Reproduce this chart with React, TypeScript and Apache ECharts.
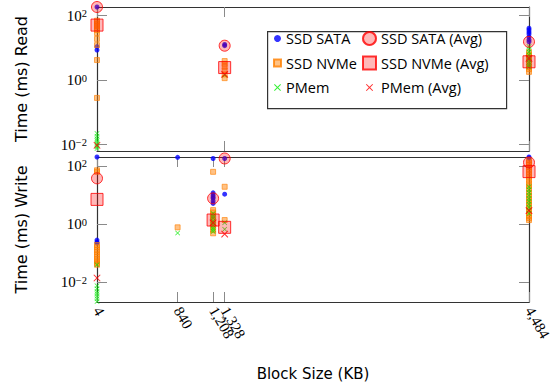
import React, { useEffect, useRef } from 'react';
import * as echarts from 'echarts';

// ---- data -----------------------------------------------------------------
const blockSizes = [4, 840, 1208, 1328, 4484];
const readBlockSizes = [4, 1328, 4484];
const timeTicks = [0.01, 1, 100];

// Read panel (block size KB, time ms)
const readSata = [[4, 186], [4, 11], [4, 8.6], [1328, 11.7], [1328, 12.8], [4484, 41], [4484, 36], [4484, 31], [4484, 27], [4484, 22], [4484, 18], [4484, 15.5]];
const readNvme = [[4, 70], [4, 62], [4, 55], [4, 48], [4, 42], [4, 36], [4, 29], [4, 19], [4, 12.2], [4, 4.2], [4, 0.28], [1328, 3.9], [1328, 3.2], [1328, 2.6], [1328, 2.0], [1328, 1.5], [1328, 1.15], [4484, 7.4], [4484, 6], [4484, 5], [4484, 4], [4484, 3.2], [4484, 2.6], [4484, 2.2], [4484, 1.8]];
const readPmem = [[4, 0.022], [4, 0.018], [4, 0.015], [4, 0.013], [4, 0.011], [4, 0.0095], [4, 0.0085], [4, 0.0076], [1328, 1.45], [4484, 11], [4484, 9], [4484, 7.5], [4484, 6], [4484, 5], [4484, 4.2], [4484, 3.5], [4484, 3], [4484, 2.6]];
const readSataAvg = [[4, 186], [1328, 11.7], [4484, 15.5]];
const readNvmeAvg = [[4, 51], [1328, 2.45], [4484, 3.7]];
const readPmemAvg = [[4, 0.0095], [1328, 1.5], [4484, 4.7]];

// Write panel
const writeSata = [[4, 200], [4, 0.28], [4, 0.24], [4, 0.22], [840, 195], [1208, 178], [1208, 11.8], [1208, 10], [1208, 8.5], [1208, 7.6], [1208, 6.2], [1208, 5.1], [1328, 178], [1328, 10.6], [4484, 200], [4484, 185]];
const writeNvme = [[4, 70], [4, 62], [4, 0.19], [4, 0.16], [4, 0.13], [4, 0.11], [4, 0.09], [4, 0.075], [4, 0.062], [4, 0.052], [4, 0.045], [4, 0.04], [840, 0.77], [1208, 62], [1208, 3.0], [1208, 2.5], [1208, 2.0], [1208, 1.6], [1208, 1.3], [1208, 1.0], [1208, 0.8], [1208, 0.62], [1208, 0.48], [1328, 19], [1328, 1.37], [4484, 155], [4484, 130], [4484, 110], [4484, 90], [4484, 75], [4484, 62], [4484, 50], [4484, 40], [4484, 32], [4484, 25], [4484, 20], [4484, 16], [4484, 12], [4484, 9.5], [4484, 7.5], [4484, 6], [4484, 4.8], [4484, 3.8], [4484, 3], [4484, 2.4], [4484, 1.9], [4484, 1.6], [4484, 1.37]];
const writePmem = [[4, 0.04], [4, 0.0076], [4, 0.006], [4, 0.0048], [4, 0.004], [4, 0.0033], [4, 0.0027], [4, 0.0022], [840, 0.49], [1208, 2.3], [1208, 1.9], [1208, 1.6], [1208, 1.3], [1208, 1.1], [1208, 0.9], [1208, 0.75], [1208, 0.65], [1208, 0.55], [1328, 1.1], [1328, 0.66], [4484, 19], [4484, 15], [4484, 12], [4484, 9.5], [4484, 7.5], [4484, 6], [4484, 4.8], [4484, 3.8], [4484, 3], [4484, 2.3]];
const writeSataAvg = [[4, 37], [1208, 7.6], [1328, 178], [4484, 130]];
const writeNvmeAvg = [[4, 7], [1208, 1.37], [1328, 0.77], [4484, 63]];
const writePmemAvg = [[4, 0.014], [1208, 1.1], [1328, 0.45], [4484, 2.9]];

const seriesNames = ['SSD SATA', 'SSD NVMe', 'PMem', 'SSD SATA (Avg)', 'SSD NVMe (Avg)', 'PMem (Avg)'];
const readData = [readSata, readNvme, readPmem, readSataAvg, readNvmeAvg, readPmemAvg];
const writeData = [writeSata, writeNvme, writePmem, writeSataAvg, writeNvmeAvg, writePmemAvg];

// ---- styles ---------------------------------------------------------------
const SERIF = "'Liberation Serif', 'Times New Roman', serif";
const SANS = "'DejaVu Sans', sans-serif";
const LEGEND_FONT = "'Open Sans', sans-serif";
const X_PATH = 'path://M0,1L1,0L5,4L9,0L10,1L6,5L10,9L9,10L5,6L1,10L0,9L4,5Z';
const X_PATH_PAD = 'path://M-4,-4M14,14M0,1L1,0L5,4L9,0L10,1L6,5L10,9L9,10L5,6L1,10L0,9L4,5Z';
const AVG_FILL = 'rgba(255,0,0,0.35)';

const markStyles: Record<string, any> = {
  'SSD SATA': { symbol: 'circle', symbolSize: 5, itemStyle: { color: '#0000ff' } },
  'SSD NVMe': { symbol: 'rect', symbolSize: 5, itemStyle: { color: 'rgba(255,128,0,0.6)', borderColor: '#ff8000', borderWidth: 0.8 } },
  'PMem': { symbol: X_PATH, symbolSize: 5, itemStyle: { color: '#00ee00' } },
  'SSD SATA (Avg)': { symbol: 'circle', symbolSize: 11, itemStyle: { color: AVG_FILL, borderColor: '#ff0000', borderWidth: 1 } },
  'SSD NVMe (Avg)': { symbol: 'rect', symbolSize: 12, itemStyle: { color: AVG_FILL, borderColor: '#ff0000', borderWidth: 1 } },
  'PMem (Avg)': { symbol: X_PATH_PAD, symbolSize: 13, itemStyle: { color: '#ff0000' } },
};

const AXIS_LINE = { show: true, lineStyle: { color: '#333', width: 1.2 } };
const tickStyle = (values: number[]) => ({ show: true, inside: true, length: 10, customValues: values, lineStyle: { color: '#8a8a8a', width: 1 } });

const fmtThousands = (v: number) => String(v).replace(/\B(?=(\d{3})+(?!\d))/g, ',');
const fmtPow = (v: number) => {
  const e = Math.round(Math.log10(v));
  return `{b|10}{s|${e < 0 ? '\u2212' + -e : e}}`;
};

export default function App() {
  const ref = useRef<HTMLDivElement>(null);
  useEffect(() => {
    if (!ref.current) return;
    const chart = echarts.init(ref.current, undefined, { renderer: 'svg' });

    const xAxisFor = (grid: number, position: string, ticks: number[], labels: boolean) => ({
      gridIndex: grid, type: 'value', position, min: 4, max: 4484,
      axisLine: AXIS_LINE, axisTick: tickStyle(ticks), splitLine: { show: false },
      axisLabel: labels
        ? { show: true, rotate: -60, margin: 6, fontSize: 15, fontFamily: SERIF, color: '#000', customValues: ticks, formatter: fmtThousands, hideOverlap: false }
        : { show: false },
      ...(labels ? { name: 'Block Size (KB)', nameLocation: 'middle', nameGap: 64, nameTextStyle: { fontFamily: SANS, fontSize: 15, color: '#000' } } : {}),
    });

    const yAxisFor = (grid: number, position: string, min: number, max: number, name: string | null) => ({
      gridIndex: grid, type: 'log', logBase: 10, position, min, max,
      axisLine: AXIS_LINE, axisTick: tickStyle(timeTicks), splitLine: { show: false }, minorTick: { show: false },
      axisLabel: name
        ? {
            show: true, margin: 10, customValues: timeTicks, formatter: fmtPow, color: '#000',
            rich: {
              b: { fontSize: 15, fontFamily: SERIF, lineHeight: 15, padding: [5, 0, 0, 0], verticalAlign: 'bottom', color: '#000' },
              s: { fontSize: 10.5, fontFamily: SERIF, lineHeight: 14, verticalAlign: 'top', color: '#000' },
            },
          }
        : { show: false },
      ...(name ? { name, nameLocation: 'middle', nameRotate: 90, nameGap: 68, nameTextStyle: { fontFamily: SANS, fontSize: 16, color: '#000' } } : {}),
    });

    const series: any[] = [];
    [readData, writeData].forEach((panel, p) => {
      panel.forEach((data, i) => {
        const name = seriesNames[i];
        series.push({
          type: 'scatter', name, data, xAxisIndex: p * 2, yAxisIndex: p * 2,
          clip: false, silent: true, emphasis: { disabled: true },
          ...markStyles[name],
        });
      });
    });

    const legendBase = {
      orient: 'vertical', top: 30, itemGap: 7.5, padding: 0, selectedMode: false,
      textStyle: { fontFamily: LEGEND_FONT, fontSize: 14.5, color: '#000', lineHeight: 17 },
    };

    chart.setOption({
      animation: false,
      backgroundColor: '#fff',
      grid: [
        { left: 97, top: 7, width: 432, height: 144, containLabel: false, outerBoundsMode: 'none' },
        { left: 97, top: 157, width: 432, height: 145, containLabel: false, outerBoundsMode: 'none' },
      ],
      xAxis: [
        xAxisFor(0, 'bottom', readBlockSizes, false),
        xAxisFor(0, 'top', readBlockSizes, false),
        xAxisFor(1, 'bottom', blockSizes, true),
        xAxisFor(1, 'top', blockSizes, false),
      ],
      yAxis: [
        yAxisFor(0, 'left', 0.0063, 186, 'Time (ms) Read'),
        yAxisFor(0, 'right', 0.0063, 186, null),
        yAxisFor(1, 'left', 0.0021, 200, 'Time (ms) Write'),
        yAxisFor(1, 'right', 0.0021, 200, null),
      ],
      legend: [
        { ...legendBase, left: 273, itemWidth: 7, itemHeight: 7, data: ['SSD SATA', 'SSD NVMe', 'PMem'] },
        { ...legendBase, left: 362, itemWidth: 13, itemHeight: 13, data: ['SSD SATA (Avg)', 'SSD NVMe (Avg)', 'PMem (Avg)'] },
      ],
      graphic: [
        { type: 'rect', left: 267, top: 31, shape: { width: 239, height: 77 }, style: { fill: '#fff', stroke: '#333', lineWidth: 1.2 }, z: 0, silent: true },
      ],
      series,
    });
    return () => chart.dispose();
  }, []);
  return <div ref={ref} style={{ width: 553, height: 387, position: 'absolute', left: 0, top: 0 }} />;
}
